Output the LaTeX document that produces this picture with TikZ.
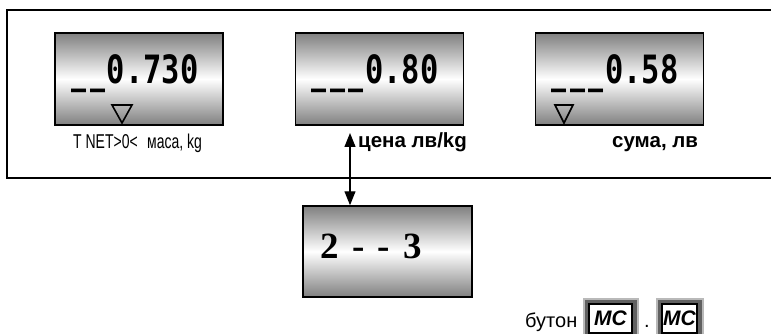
\documentclass[tikz,border=0pt]{standalone}
\usepackage{fontspec}
\setmainfont{Liberation Sans}
\newfontfamily\lcdfont[FakeStretch=0.78]{DejaVu Sans Mono}
\newfontfamily\narrowfont[FakeStretch=0.7]{Liberation Sans}
\newfontfamily\romanfont{Liberation Serif}
\usetikzlibrary{arrows.meta}

% one blank digit of the display
\newcommand\lcdblank{\makebox[18.3pt][c]{\scalebox{0.82}[1]{\_}}}

\tikzset{
  display/.style={draw, line width=1.5pt, top color=gray, bottom color=gray,
    middle color=white, minimum width=168pt, minimum height=92pt, inner sep=0pt},
  lcd/.style={anchor=base west, inner sep=0pt,
    font=\lcdfont\bfseries\fontsize{39pt}{39pt}\selectfont},
  cursor/.style={draw, line width=1.6pt, line join=miter},
  smalllabel/.style={anchor=base west, inner sep=0pt,
    font=\narrowfont\fontsize{20pt}{20pt}\selectfont},
  boldlabel/.style={anchor=base west, inner sep=0pt,
    font=\bfseries\fontsize{20.5pt}{22pt}\selectfont},
  mckey/.style={draw, line width=1.8pt, fill=white, inner sep=0pt,
    minimum height=29pt,
    preaction={draw=gray!55, line width=13pt},
    preaction={draw=black!62, line width=9pt},
    font=\bfseries\itshape\fontsize{21pt}{21pt}\selectfont},
}

\begin{document}
\begin{tikzpicture}[x=1pt,y=-1pt]
  \useasboundingbox (0,0) rectangle (771,334);
  \clip (0,0) rectangle (771,334);

  % frame round the three displays
  \draw[line width=1.5pt] (7,10) rectangle (790,178);

  % displays
  \node[display] (Mass)  at (139,79)   {};
  \node[display] (Price) at (379.5,79) {};
  \node[display] (Sum)   at (619.5,79) {};

  \node[lcd] (MassVal)  at (70,84)  {\lcdblank\lcdblank0.730};
  \node[lcd] (PriceVal) at (310,84) {\lcdblank\lcdblank\lcdblank0.80};
  \node[lcd] (SumVal)   at (550,84) {\lcdblank\lcdblank\lcdblank0.58};

  \draw[cursor] (112,105) -- (132,105) -- (122,123) -- cycle;
  \draw[cursor] (555,105) -- (573,105) -- (564,123) -- cycle;

  % labels under the displays
  \node[smalllabel] (Flags)     at (73,149)  {T NET>0<};
  \node[smalllabel] (MassUnit)  at (147,149) {маса, kg};
  \node[boldlabel]  (PriceUnit) at (358,148) {цена лв/kg};
  \node[boldlabel]  (SumUnit)   at (612,148) {сума, лв};

  % code box
  \node[display, minimum width=169pt, minimum height=91pt] (Code) at (387.5,251.5) {};
  \node[anchor=base west, inner sep=0pt,
    font=\romanfont\bfseries\fontsize{37pt}{37pt}\selectfont] (CodeVal) at (320,258)
    {2\hspace{0.36em}-\hspace{0.36em}-\hspace{0.36em}3};

  \coordinate (PriceTip) at (350,133);
  \draw[line width=1.2pt, {Triangle[length=14pt,width=11pt]}-{Triangle[length=14pt,width=11pt]}]
    (PriceTip) -- (PriceTip |- Code.north);

  % keys
  \node[anchor=base west, inner sep=0pt, font=\fontsize{20pt}{20pt}\selectfont]
    (KeyWord) at (525,327) {бутон};
  \node[mckey, minimum width=43pt] (KeyA) at (610.5,318.5) {MC};
  \node[anchor=base, inner sep=0pt, font=\fontsize{20pt}{20pt}\selectfont]
    (Dot) at (647,327) {.};
  \node[mckey, minimum width=35pt] (KeyB) at (679.5,318.5) {MC};
\end{tikzpicture}
\end{document}
